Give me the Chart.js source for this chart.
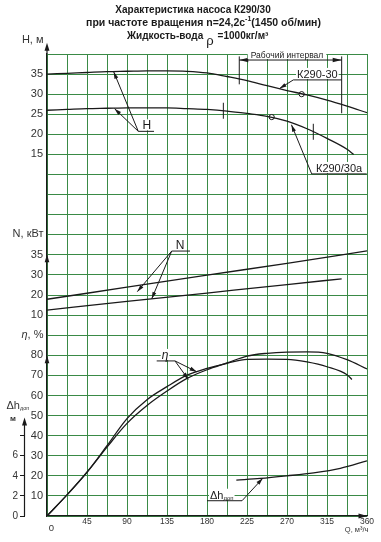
<!DOCTYPE html>
<html lang="ru"><head><meta charset="utf-8">
<script src="https://cdn.jsdelivr.net/npm/chart.js@4.4.1/dist/chart.umd.min.js"></script>
<style>html,body{margin:0;padding:0;background:#fff;overflow:hidden}canvas{display:block}</style>
</head><body>
<canvas id="c" width="381" height="542"></canvas>
<script>
// ---------------- data ----------------
const qTicks   = [45, 90, 135, 180, 225, 270, 315, 360];
const hTicks   = [15, 20, 25, 30, 35];
const nTicks   = [10, 20, 30, 35];
const etaTicks = [10, 20, 30, 40, 50, 60, 70, 80];
const dhTicks  = [0, 2, 4, 6];

// H, m
const qH30  = [0,22.5,45,67.5,90,112.5,135,157.5,180,202.5,225,247.5,270,292.5,315,337.5,360];
const h30   = [35.0,35.2,35.4,35.6,35.7,35.8,35.8,35.7,35.3,34.4,33.4,32.1,30.9,29.8,28.5,27.0,25.4];
const qH30a = [0,22.5,45,67.5,90,112.5,135,157.5,180,202.5,225,247.5,270,292.5,315,337.5,345];
const h30a  = [26.0,26.2,26.4,26.5,26.6,26.6,26.6,26.4,26.2,25.8,25.2,24.5,23.3,21.4,19.0,16.3,15.0];
// N, kW
const qN30  = [0, 90, 180, 270, 360];
const n30   = [17.9, 23.9, 29.9, 32.9, 36.0];
const qN30a = [0, 90, 180, 270, 331.5];
const n30a  = [12.5, 16.8, 21.0, 25.2, 28.1];
// efficiency, %
const qEta30  = [0,22.5,45,67.5,90,112.5,135,157.5,180,202.5,225,247.5,270,292.5,315,337.5,360];
const eta30   = [0,10.5,21.8,34.3,46.1,55.0,62.2,68.5,72.8,76.2,79.6,81.0,81.6,81.7,81.0,77.8,73.2];
const qEta30a = [0,22.5,45,67.5,90,112.5,135,157.5,180,202.5,225,247.5,270,292.5,315,337.5,343];
const eta30a  = [0,10.5,21.8,35.0,48.5,57.9,64.4,70.1,73.5,76.0,78.0,78.1,78.0,76.7,74.3,70.3,68.0];
// NPSH required, m
const qDh = [213, 240, 270, 300, 330, 360];
const dh  = [3.58, 3.74, 4.0, 4.3, 4.75, 5.5];
// duty points and working range
const duty30  = [286.5, 30.0];
const duty30a = [252.8, 24.3];
const range30a = [198.4, 299.6];
const workRange = [216.3, 331.5];

// ---------------- panel -> grid row conversion ----------------
const ROWS = 23;
const hRow   = h => h / 5 + 15;
const etaRow = e => e / 10;
const dhRow  = d => d / 2;
const nTickRows = [10, 11, 12, 13];
function nRow(n) {
  let i = 0;
  while (i < nTicks.length - 2 && n > nTicks[i + 1]) i++;
  const t = (n - nTicks[i]) / (nTicks[i + 1] - nTicks[i]);
  return nTickRows[i] + t * (nTickRows[i + 1] - nTickRows[i]);
}
function interp(qs, vs, q) {
  for (let i = 0; i < qs.length - 1; i++) {
    if (q >= qs[i] && q <= qs[i + 1]) return vs[i] + (vs[i + 1] - vs[i]) * (q - qs[i]) / (qs[i + 1] - qs[i]);
  }
  return vs[vs.length - 1];
}
const rowLabels = {};
hTicks.forEach(v => rowLabels[Math.round(hRow(v))] = String(v));
nTicks.forEach(v => rowLabels[Math.round(nRow(v))] = String(v));
etaTicks.forEach(v => rowLabels[Math.round(etaRow(v))] = String(v));

const pts = (qs, vs, conv) => qs.map((q, i) => ({ x: q, y: conv(vs[i]) }));

const INK = '#1a1a1a';
const GRID = '#3a8a46';
const F = '"Liberation Sans", Arial, sans-serif';
const curve = (data) => ({ data, showLine: true, borderColor: INK, borderWidth: 1.3, pointRadius: 0, cubicInterpolationMode: 'monotone', fill: false });
const marker = (q, v) => ({ data: [{ x: q, y: hRow(v) }], showLine: false, pointRadius: 2.6, pointBackgroundColor: '#fff', pointBorderColor: INK, pointBorderWidth: 1 });

function arrowHead(c, x1, y1, x2, y2, len, half) {
  const a = Math.atan2(y2 - y1, x2 - x1), ca = Math.cos(a), sa = Math.sin(a);
  c.beginPath();
  c.moveTo(x2, y2);
  c.lineTo(x2 - len * ca + half * sa, y2 - len * sa - half * ca);
  c.lineTo(x2 - len * ca - half * sa, y2 - len * sa + half * ca);
  c.closePath(); c.fill();
}
function seg(c, x1, y1, x2, y2) { c.beginPath(); c.moveTo(x1, y1); c.lineTo(x2, y2); c.stroke(); }

const decor = {
  id: 'decor',
  afterDraw(chart) {
    const c = chart.ctx, xs = chart.scales.x, ys = chart.scales.y, A = chart.chartArea;
    const X = q => xs.getPixelForValue(q), Y = r => ys.getPixelForValue(r);
    c.save();
    c.fillStyle = INK; c.strokeStyle = INK; c.lineWidth = 1;
    c.textBaseline = 'middle'; c.textAlign = 'left';

    // ---- title ----
    c.font = 'bold 10px ' + F;
    const t1 = 'Характеристика насоса К290/30';
    c.fillText(t1, 193 - c.measureText(t1).width / 2, 10);
    c.font = 'bold 10.5px ' + F;
    const a2 = 'при частоте вращения n=24,2с', s2 = '-1', b2 = '(1450 об/мин)';
    const wa = c.measureText(a2).width, wb = c.measureText(b2).width;
    c.font = 'bold 7px ' + F; const ws = c.measureText(s2).width;
    let x0 = 203.5 - (wa + ws + wb) / 2;
    c.font = 'bold 10.5px ' + F; c.fillText(a2, x0, 23);
    c.font = 'bold 7px ' + F; c.fillText(s2, x0 + wa, 19.5);
    c.font = 'bold 10.5px ' + F; c.fillText(b2, x0 + wa + ws, 23);
    c.font = 'bold 10px ' + F;
    const a3 = 'Жидкость-вода', b3 = '=1000кг/м³';
    c.fillText(a3, 127, 36);
    let x3 = 127 + c.measureText(a3).width + 3;
    c.font = '13px ' + F; c.fillText('ρ', x3, 41.5);
    x3 += c.measureText('ρ').width + 4;
    c.font = 'bold 10px ' + F; c.fillText(b3, x3, 36);

    // ---- axis titles ----
    c.font = '11px ' + F; c.fillStyle = '#333';
    c.textAlign = 'right';
    c.fillText('Н, м', 43.5, 39.5);
    c.fillText('N, кВт', 43.5, 234);
    const wp = c.measureText(', %').width;
    c.fillText(', %', 43.5, 335);
    c.font = 'italic 11px ' + F; c.fillText('η', 43.5 - wp, 335);
    c.textAlign = 'left';
    c.font = '11px ' + F; c.fillText('Δh', 6.5, 405.5);
    const wdh = c.measureText('Δh').width;
    c.font = '5.5px ' + F; c.fillText('доп', 6.5 + wdh, 408.5);
    c.font = 'bold 8px ' + F; c.fillText('м', 10, 419);
    c.font = '7.5px ' + F; c.textAlign = 'right'; c.fillText('Q, м³/ч', 368.5, 530);
    c.font = '9.5px ' + F; c.textAlign = 'center'; c.fillText('0', 51.3, 528.3);
    c.fillStyle = INK;

    // ---- axis extensions and arrows ----
    c.lineWidth = 1.2;
    seg(c, A.left, A.top, A.left, 48);
    arrowHead(c, A.left, 60, A.left, 42.7, 8, 2.5);
    arrowHead(c, A.left, Y(12.5), A.left, Y(13) - 0.5, 8, 2.3);
    arrowHead(c, A.left, Y(7.6), A.left, Y(8), 8, 2.3);
    arrowHead(c, A.right - 10, A.bottom, A.right + 0.5, A.bottom, 9, 2.5);
    const xd = chart.scales.yDh.right - 0.5;
    seg(c, xd, Y(0), xd, Y(4.6));
    arrowHead(c, xd, Y(4), xd, Y(4.9), 8, 2.5);

    // ---- working interval bracket ----
    c.lineWidth = 1;
    const xl = X(workRange[0]), xr = X(workRange[1]), yd = Y(22.7);
    seg(c, xl, Y(22.88), xl, Y(21.49));
    seg(c, xr, Y(22.88), xr, Y(20.05));
    seg(c, xl, yd, xr, yd);
    arrowHead(c, xl + 12, yd, xl, yd, 9, 2.2);
    arrowHead(c, xr - 12, yd, xr, yd, 9, 2.2);
    c.font = '8.5px ' + F;
    const wt = c.measureText('Рабочий интервал').width;
    const xt = X(270);
    c.fillStyle = '#fff'; c.fillRect(xt - wt / 2 - 3, 49, wt + 6, 10);
    c.fillStyle = INK; c.textAlign = 'center'; c.fillText('Рабочий интервал', xt, 55.5);

    // ---- range marks on К290/30а ----
    range30a.forEach(q => {
      const yy = Y(hRow(interp(qH30a, h30a, q)));
      seg(c, X(q), yy - 8, X(q), yy + 8);
    });

    // ---- labels with leaders ----
    function label(text, font, qc, row, q1, q2, align) {
      c.font = font;
      const w = c.measureText(text).width;
      const yb = Y(row);
      const tx = align === 'left' ? X(qc) : X(qc) - w / 2;
      c.fillStyle = '#fff'; c.fillRect(tx - 1, yb - 12, w + 2, 11);
      c.fillStyle = INK; c.textAlign = 'left'; c.textBaseline = 'alphabetic';
      c.fillText(text, tx, yb - 2);
      c.textBaseline = 'middle';
      seg(c, X(q1), yb, X(q2), yb);
    }
    function lead(q1, r1, q2, r2) {
      const x1 = X(q1), y1 = Y(r1), x2 = X(q2), y2 = Y(r2);
      seg(c, x1, y1, x2, y2);
      arrowHead(c, x1, y1, x2, y2, 7, 2);
    }
    // H
    label('Н', '12px ' + F, 112.2, 19.15, 102.7, 120.4);
    lead(102.7, 19.15, 75, hRow(35.6));
    lead(102.7, 19.15, 76, hRow(26.4));
    // К290-30
    label('К290-30', '11px ' + F, 281.3, 21.71, 277.1, 331.5, 'left');
    lead(277.1, 21.71, 261.6, hRow(31.4));
    // К290/30а
    label('К290/30а', '11px ' + F, 302.6, 17.03, 297.8, 359.7, 'left');
    lead(297.8, 17.03, 275, hRow(22.4));
    // N
    label('N', '12px ' + F, 149.6, 13.19, 140.3, 160.9);
    lead(140.3, 13.19, 101.6, 11.17);
    lead(140.3, 13.19, 117.8, nRow(interp(qN30a, n30a, 117.8)));
    // eta
    label('η', 'italic 12px ' + F, 132.75, 7.72, 123.4, 144);
    lead(144, 7.72, 168.4, etaRow(71.8));
    lead(144, 7.72, 159, etaRow(68));
    // NPSH
    c.font = '11px ' + F;
    const wD = c.measureText('Δh').width;
    c.font = '6px ' + F;
    const wS = c.measureText('доп').width;
    const yb = Y(0.76);
    c.fillStyle = '#fff'; c.fillRect(X(183.4) - 1, yb - 12, wD + wS + 2, 11);
    c.fillStyle = INK; c.textAlign = 'left'; c.textBaseline = 'alphabetic';
    c.font = '11px ' + F; c.fillText('Δh', X(183.4), yb - 2);
    c.font = '6px ' + F; c.fillText('доп', X(183.4) + wD, yb - 1);
    seg(c, X(180), yb, X(219.4), yb);
    lead(219.4, 0.76, 242.7, dhRow(3.75));
    c.restore();
  }
};

new Chart(document.getElementById('c'), {
  type: 'scatter',
  data: {
    datasets: [
      curve(pts(qH30, h30, hRow)),
      curve(pts(qH30a, h30a, hRow)),
      curve(pts(qN30, n30, nRow)),
      curve(pts(qN30a, n30a, nRow)),
      curve(pts(qEta30, eta30, etaRow)),
      curve(pts(qEta30a, eta30a, etaRow)),
      curve(pts(qDh, dh, dhRow)),
      marker(duty30[0], duty30[1]),
      marker(duty30a[0], duty30a[1])
    ]
  },
  options: {
    responsive: false,
    devicePixelRatio: 1,
    animation: false,
    layout: { padding: { top: 54, right: 14, bottom: 0, left: 0 } },
    plugins: { legend: { display: false }, tooltip: { enabled: false }, title: { display: false } },
    scales: {
      x: {
        type: 'linear', position: 'bottom', min: 0, max: 360,
        afterBuildTicks: s => { s.ticks = []; for (let q = 0; q <= 360; q += 22.5) s.ticks.push({ value: q }); },
        afterFit: s => { s.height = 26; },
        ticks: { autoSkip: false, maxRotation: 0, padding: 1, color: '#333', font: { family: F, size: 8.5 },
                 callback: v => qTicks.includes(v) ? String(v) : '' },
        grid: { color: GRID, lineWidth: 1, drawTicks: false },
        border: { display: true, color: INK, width: 1.3 }
      },
      y: {
        type: 'linear', position: 'left', min: 0, max: ROWS, weight: 0,
        afterBuildTicks: s => { s.ticks = []; for (let r = 0; r <= ROWS; r++) s.ticks.push({ value: r }); },
        afterFit: s => { s.width = 22; },
        ticks: { autoSkip: false, padding: 4, color: '#333', font: { family: F, size: 11 },
                 callback: v => rowLabels[v] || '' },
        grid: { color: GRID, lineWidth: 1, drawTicks: false },
        border: { display: true, color: INK, width: 1.3 }
      },
      yDh: {
        type: 'linear', position: 'left', min: 0, max: ROWS * 2, weight: 1,
        afterBuildTicks: s => { s.ticks = [0, 2, 4, 6, 8].map(v => ({ value: v })); },
        afterFit: s => { s.width = 25; },
        ticks: { autoSkip: false, padding: 2, color: '#333', font: { family: F, size: 10 },
                 callback: v => dhTicks.includes(v) ? String(v) : '' },
        grid: { drawOnChartArea: false, drawTicks: true, tickLength: 5, color: INK, lineWidth: 1 },
        border: { display: false }
      }
    }
  },
  plugins: [decor]
});
</script>
</body></html>
